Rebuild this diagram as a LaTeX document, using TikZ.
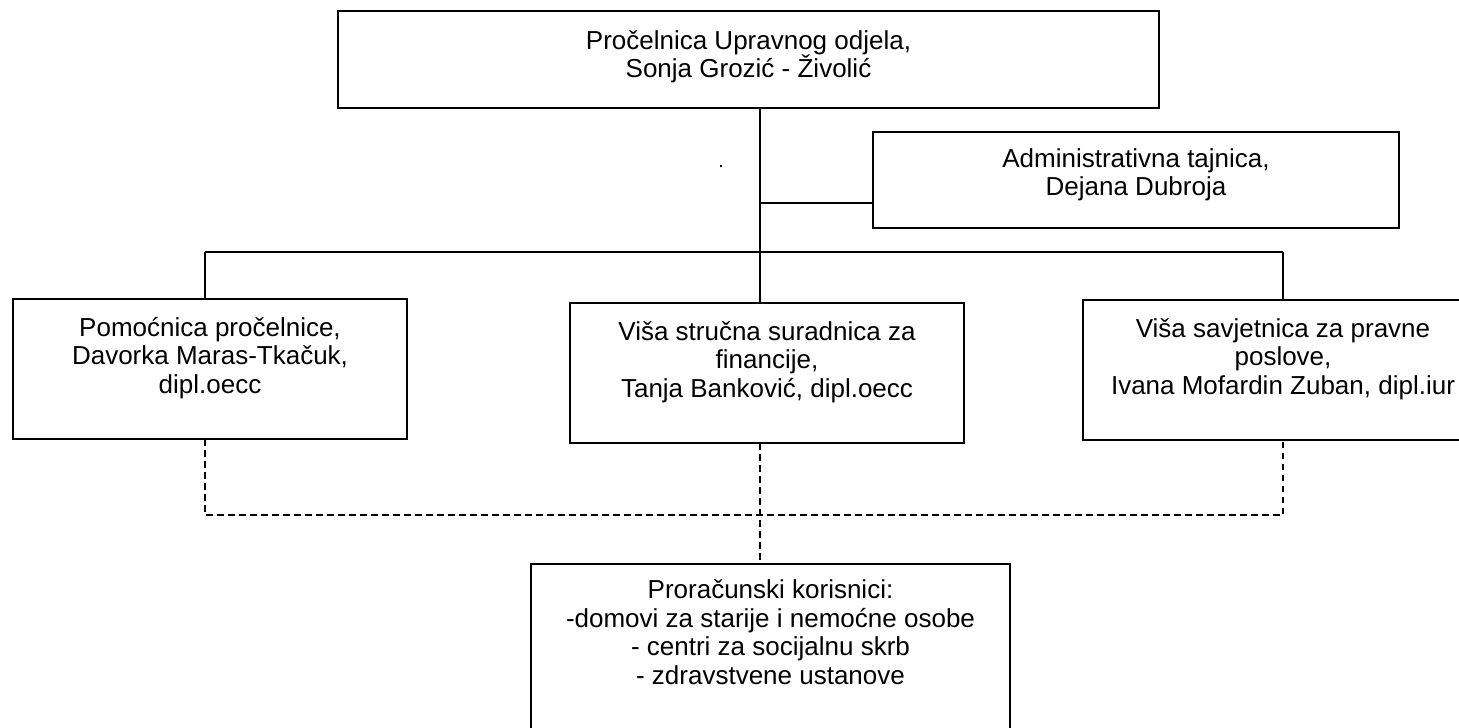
\documentclass[tikz,border=0pt]{standalone}
\usepackage{fontspec}
\setmainfont{Liberation Sans}
\usetikzlibrary{positioning,calc}

\begin{document}
\begin{tikzpicture}[
    x=1pt, y=-1pt,
    font=\fontsize{26}{28.5}\selectfont,
    unit/.style={rectangle, draw, line width=1.7pt, align=center, anchor=north west, inner sep=0pt, outer sep=0pt, text height=94pt, text depth=46pt, minimum width=394pt},
    link/.style={line width=1.4pt},
    aux/.style={line width=1.4pt, dash pattern=on 6.5pt off 4.5pt}
]
    \useasboundingbox (0,0) rectangle (1459,728);

    % Head of department
    \node[unit, minimum width=821pt, text height=66.5pt, text depth=30.5pt] (head) at (338,11) {Pročelnica Upravnog odjela,\\ Sonja Grozić - Živolić};
    \node[unit, minimum width=526pt, text height=63.5pt, text depth=32.5pt] (secretary) at (873,132) {Administrativna tajnica,\\Dejana Dubroja};

    % Staff boxes
    \node[unit] (assistant) at (13,299) {Pomoćnica pročelnice,\\Davorka Maras-Tkačuk,\\dipl.oecc};
    \node[unit] (finance) at (570,303) {Viša stručna suradnica za\\financije,\\Tanja Banković, dipl.oecc};
    \node[unit, minimum width=400pt] (legal) at (1083,300) {Viša savjetnica za pravne\\poslove,\\Ivana Mofardin Zuban, dipl.iur};

    % Budget users
    \node[unit, minimum width=479pt, text height=120pt, text depth=80pt] (users) at (531,564) {Proračunski korisnici:\\-domovi za starije i nemoćne osobe\\- centri za socijalnu skrb\\- zdravstvene ustanove};

    % Solid lines
    \coordinate (tee) at (760,203);
    \coordinate (trunk) at (760,252);
    \coordinate (barL) at (205,252);
    \coordinate (barR) at (1283,252);
    \draw[link] (head.south -| trunk) -- (trunk);
    \draw[link] (tee) -- (tee -| secretary.west);
    \draw[link] (barL) -- (barR);
    \draw[link] (barL) -- (barL |- assistant.north);
    \draw[link] (trunk) -- (trunk |- finance.north);
    \draw[link] (barR) -- (barR |- legal.north);

    % Dashed lines
    \coordinate (busL) at (205,515);
    \coordinate (busM) at (760,515);
    \coordinate (busR) at (1283,515);
    \draw[aux] (busL |- assistant.south) -- (busL) -- (busR) -- (busR |- legal.south);
    \draw[aux] (busM |- finance.south) -- (busM |- users.north);

    \fill (720,165) rectangle (722,167);
\end{tikzpicture}
\end{document}
